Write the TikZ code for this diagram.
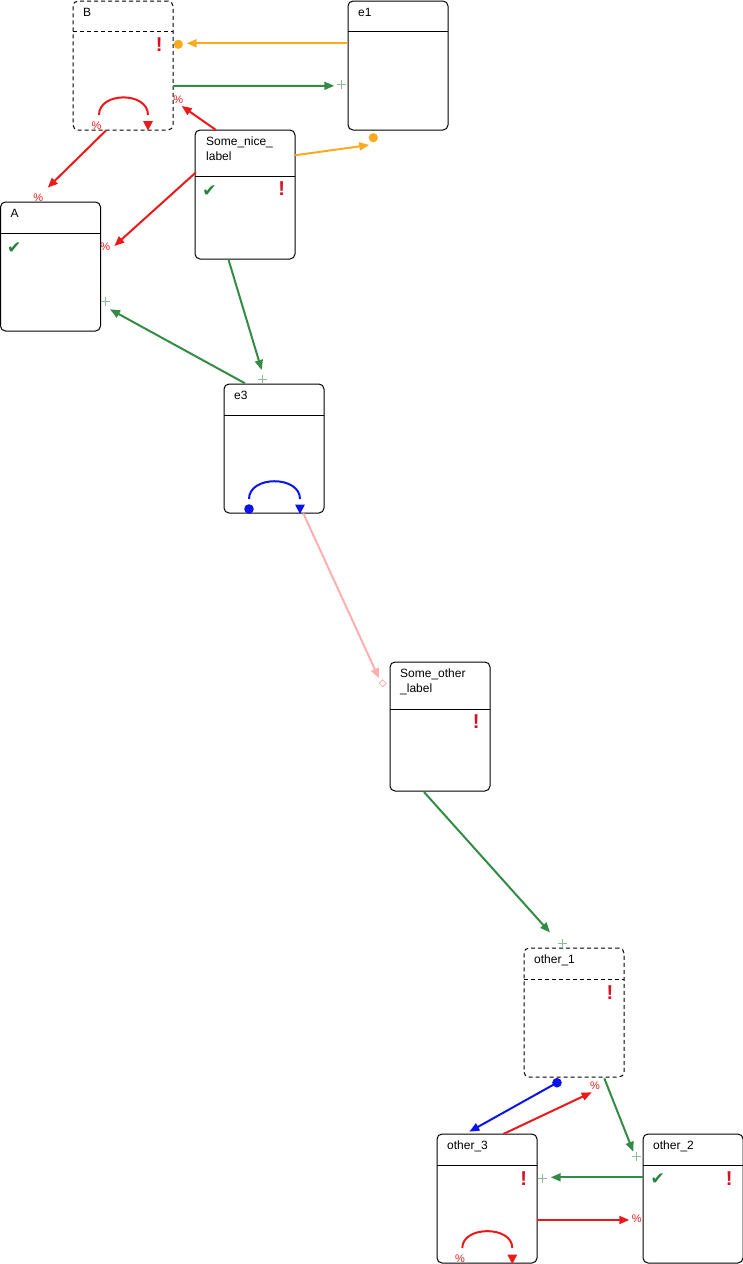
\documentclass[tikz,border=0pt]{standalone}
\usepackage{fontspec}
\setmainfont{Liberation Sans}
\newfontfamily\symfont{DejaVu Sans}
\usetikzlibrary{arrows.meta,calc}
\definecolor{cred}{RGB}{235,25,25}
\definecolor{cbang}{RGB}{215,15,35}
\definecolor{cgreen}{RGB}{52,139,70}
\definecolor{cchk}{RGB}{40,130,60}
\definecolor{cplus}{RGB}{140,185,150}
\definecolor{cblue}{RGB}{10,20,235}
\definecolor{corange}{RGB}{250,170,30}
\definecolor{cpink}{RGB}{255,175,175}
\tikzset{
  box/.style={draw=black, line width=1pt, rounded corners=5pt, minimum width=100pt, minimum height=129pt, inner sep=0pt, outer sep=0pt},
  dbox/.style={box, dash pattern=on 4pt off 3pt},
  hline/.style={draw=black, line width=1pt},
  dhline/.style={hline, dash pattern=on 4pt off 3pt},
  title/.style={anchor=base west, inner sep=0pt, font=\fontsize{12}{15}\selectfont, align=left},
  conn/.style={line width=2pt, -{Triangle[length=10pt,width=8pt]}},
  loopline/.style={line width=2pt},
  bang/.style={text=cbang, font=\fontsize{20}{20}\selectfont\bfseries, inner sep=0pt},
  chk/.style={text=cchk, font=\symfont\fontsize{17}{17}\selectfont, inner sep=0pt},
  pct/.style={text=cred, font=\fontsize{11}{11}\selectfont, inner sep=0pt},
  plusmark/.pic={\draw[cplus, line width=0.8pt] (-4.5,0) -- (4.5,0) (0,-4.5) -- (0,4.5);},
  diamark/.pic={\draw[cpink, line width=0.8pt, fill=white] (-3.5,0) -- (0,-3.5) -- (3.5,0) -- (0,3.5) -- cycle;},
  downtri/.pic={\fill (-5,-9.5) -- (5,-9.5) -- (0,0) -- cycle;}
}
\begin{document}
\begin{tikzpicture}[x=1pt,y=-1pt]
\useasboundingbox (0,0) rectangle (743,1264);
% boxes
\node[dbox] (B) at (123,65.5) {};
\node[box] (e1) at (398,65.5) {};
\node[box] (S) at (245,194.5) {};
\node[box] (A) at (50.5,266.5) {};
\node[box] (e3) at (274,448.5) {};
\node[box] (SO) at (440,726.5) {};
\node[dbox] (o1) at (574,1012.5) {};
\node[box] (o3) at (487,1198.5) {};
\node[box] (o2) at (693,1198.5) {};
% header lines
\draw[dhline] ($(B.north west)+(0,30)$) -- ($(B.north east)+(0,30)$);
\draw[hline] ($(e1.north west)+(0,30)$) -- ($(e1.north east)+(0,30)$);
\draw[hline] ($(S.north west)+(0,46)$) -- ($(S.north east)+(0,46)$);
\draw[hline] ($(A.north west)+(0,31)$) -- ($(A.north east)+(0,31)$);
\draw[hline] ($(e3.north west)+(0,31)$) -- ($(e3.north east)+(0,31)$);
\draw[hline] ($(SO.north west)+(0,47)$) -- ($(SO.north east)+(0,47)$);
\draw[dhline] ($(o1.north west)+(0,31)$) -- ($(o1.north east)+(0,31)$);
\draw[hline] ($(o3.north west)+(0,31)$) -- ($(o3.north east)+(0,31)$);
\draw[hline] ($(o2.north west)+(0,31)$) -- ($(o2.north east)+(0,31)$);
% titles (base = baseline of last line)
\node[title] (tB) at ($(B.north west)+(10,15)$) {B};
\node[title] (te1) at ($(e1.north west)+(10,15)$) {e1};
\node[title] (tS) at ($(S.north west)+(11,30)$) {Some\_nice\_\\label};
\node[title] (tA) at ($(A.north west)+(10,15)$) {A};
\node[title] (te3) at ($(e3.north west)+(10,15)$) {e3};
\node[title] (tSO) at ($(SO.north west)+(10,30.5)$) {Some\_other\\\_label};
\node[title] (to1) at ($(o1.north west)+(10,15)$) {other\_1};
\node[title] (to3) at ($(o3.north west)+(10,15)$) {other\_3};
\node[title] (to2) at ($(o2.north west)+(10,15)$) {other\_2};
% markers
\node[bang] (bB) at (159.3,44.3) {!};
\node[bang] (bS) at (281.7,189) {!};
\node[bang] (bSO) at (476.3,721.7) {!};
\node[bang] (bo1) at (610,992.3) {!};
\node[bang] (bo3) at (523.7,1179) {!};
\node[bang] (bo2) at (729.3,1178.3) {!};
\node[chk] (cS) at (209.5,190.7) {✔};
\node[chk] (cA) at (14.3,248.3) {✔};
\node[chk] (co2) at (657.7,1179.3) {✔};
% self loops
\coordinate (Bl1) at (99,115); \coordinate (Bl2) at (148,115);
\draw[loopline, cred] (Bl1) .. controls (99,91.5) and (148,91.5) .. (Bl2);
\pic[cred] at (148,130.5) {downtri};
\node[pct] (pBl) at (96.5,125.5) {\%};
\coordinate (el1) at (249,499); \coordinate (el2) at (300,499);
\draw[loopline, cblue] (el1) .. controls (249,475.3) and (300,475.3) .. (el2);
\pic[cblue] at (300,514) {downtri};
\fill[cblue] (249,509) circle (4.8);
\coordinate (ol1) at (462.3,1248); \coordinate (ol2) at (512.3,1248);
\draw[loopline, cred] (ol1) .. controls (462.3,1225.5) and (512.3,1225.5) .. (ol2);
\pic[cred] at (512.3,1264) {downtri};
\node[pct] (pol) at (460,1259) {\%};
% ports
\coordinate (e1a) at ($(e1.north west)+(0,42.3)$);
\coordinate (Ba) at (186.7,43.3);
\coordinate (Bb) at ($(B.north east)+(0,85)$);
\coordinate (e1b) at (334.3,85.8);
\coordinate (Sa) at (216,130);
\coordinate (Bc) at (181.7,106);
\coordinate (Bd) at (106,130.5);
\coordinate (Aa) at (47.7,187.7);
\coordinate (Sb) at (196,172.3);
\coordinate (Ab) at (114.3,246);
\coordinate (Sc) at (295,155.3);
\coordinate (e1c) at (369.3,145);
\coordinate (Sd) at (228.3,259);
\coordinate (e3a) at (261.7,370);
\coordinate (e3b) at (245,383.3);
\coordinate (Ac) at (110,309.3);
\coordinate (e3c) at (303.3,513.3);
\coordinate (SOa) at (379,678.3);
\coordinate (SOb) at (424,792);
\coordinate (o1a) at (550,932.5);
\coordinate (o1b) at (557,1082.7);
\coordinate (o3a) at (469.3,1131.7);
\coordinate (o3b) at (503.3,1134);
\coordinate (o1c) at (591.7,1092.3);
\coordinate (o1d) at (604.3,1078.3);
\coordinate (o2a) at (633.3,1151.7);
\coordinate (o2b) at ($(o2.west)+(0,-21.2)$);
\coordinate (o3c) at (550.7,1177.3);
\coordinate (o3d) at ($(o3.east)+(0,21.5)$);
\coordinate (o2c) at (629.3,1220);
% connectors
\draw[conn, corange] (e1a) -- (Ba);
\fill[corange] (178.3,44.3) circle (4.6);
\draw[conn, cgreen] (Bb) -- (e1b);
\pic at (341.7,84.5) {plusmark};
\draw[conn, cred] (Sa) -- (Bc);
\node[pct] (pBc) at (178.3,99.3) {\%};
\draw[conn, cred] (Bd) -- (Aa);
\node[pct] (pAa) at (38.3,197.7) {\%};
\draw[conn, cred] (Sb) -- (Ab);
\node[pct] (pAb) at (105.3,246.7) {\%};
\draw[conn, corange] (Sc) -- (e1c);
\fill[corange] (373.3,137.7) circle (4.6);
\draw[conn, cgreen] (Sd) -- (e3a);
\pic at (262.7,379.3) {plusmark};
\draw[conn, cgreen] (e3b) -- (Ac);
\pic at (105.7,301) {plusmark};
\draw[conn, cpink] (e3c) -- (SOa);
\pic at (382.7,683.3) {diamark};
\draw[conn, cgreen] (SOb) -- (o1a);
\pic at (562.7,943.3) {plusmark};
\fill[cblue] (o1b) circle (4.8);
\draw[conn, cblue] (o1b) -- (o3a);
\draw[conn, cred] (o3b) -- (o1c);
\node[pct] (po1c) at (595,1085.5) {\%};
\draw[conn, cgreen] (o1d) -- (o2a);
\pic at (636.7,1156) {plusmark};
\draw[conn, cgreen] (o2b) -- (o3c);
\pic at (542.7,1178.3) {plusmark};
\draw[conn, cred] (o3d) -- (o2c);
\node[pct] (po2c) at (636.7,1218.7) {\%};
\end{tikzpicture}
\end{document}
